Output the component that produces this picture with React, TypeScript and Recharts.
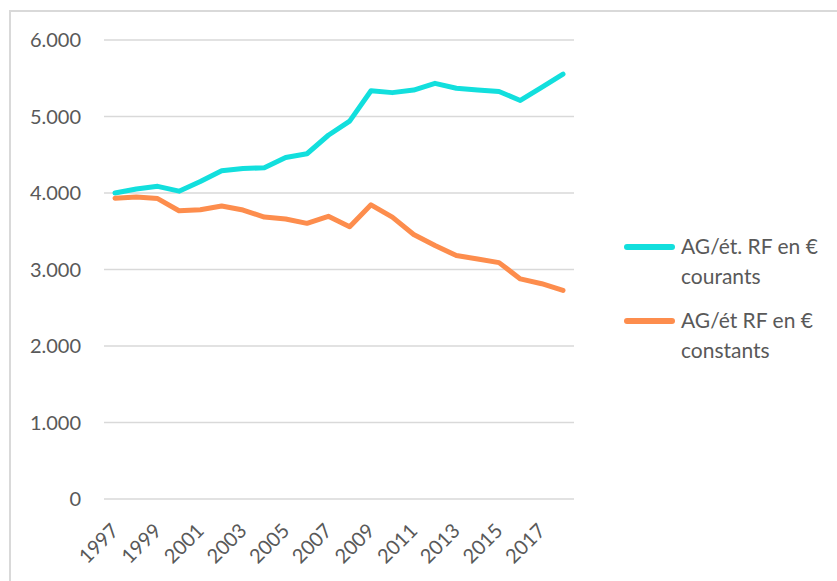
import React from "react";
import { LineChart, Line, XAxis, YAxis, CartesianGrid, Legend } from "recharts";

const years = [
  "1997", "1998", "1999", "2000", "2001", "2002", "2003", "2004", "2005", "2006", "2007",
  "2008", "2009", "2010", "2011", "2012", "2013", "2014", "2015", "2016", "2017", "2018",
];
const courants = [
  4000, 4053, 4087, 4024, 4150, 4290, 4320, 4330, 4465, 4513, 4755,
  4940, 5337, 5312, 5346, 5433, 5370, 5346, 5327, 5210, 5380, 5554,
];
const constants = [
  3932, 3947, 3927, 3768, 3782, 3830, 3777, 3685, 3661, 3603, 3695,
  3559, 3845, 3685, 3458, 3313, 3182, 3138, 3090, 2877, 2814, 2726,
];
const yTicks = [0, 1000, 2000, 3000, 4000, 5000, 6000];
const seriesNames = ["AG/ét. RF en € courants", "AG/ét RF en € constants"];
const seriesLines = [["AG/ét. RF en €", "courants"], ["AG/ét RF en €", "constants"]];
const seriesColors = ["#12dfdd", "#fd8d4d"];

const data = years.map((y, i) => ({ year: y, courants: courants[i], constants: constants[i] }));

const FONT = "Lato, 'Open Sans', sans-serif";
const TEXT = "#595959";

const fmt = (v: number) => (v === 0 ? "0" : v.toLocaleString("de-DE"));

const XTick = (props: any) => {
  const { x, y, payload, index } = props;
  if (index % 2 !== 0) return null;
  const px = x + 5;
  const py = y + 25;
  return (
    <text
      x={px}
      y={py}
      textAnchor="end"
      fill={TEXT}
      fontSize={20}
      fontFamily={FONT}
      transform={`rotate(-45 ${px} ${py})`}
    >
      {payload.value}
    </text>
  );
};

const renderLegend = (props: any) => {
  const payload = [...(props.payload || [])].sort(
    (a: any, b: any) => seriesNames.indexOf(a.value) - seriesNames.indexOf(b.value)
  );
  return (
    <div style={{ fontFamily: FONT, fontSize: 21, color: TEXT, width: 213 }}>
      {payload.map((p: any) => {
        const i = seriesNames.indexOf(p.value);
        return (
          <div key={p.value} style={{ position: "relative", height: 74 }}>
            <div
              style={{
                position: "absolute",
                left: 0,
                top: 16,
                width: 51,
                height: 6,
                borderRadius: 3,
                background: seriesColors[i],
              }}
            />
            <div style={{ position: "absolute", left: 57, top: 3, lineHeight: "30px", whiteSpace: "nowrap" }}>
              <div>{seriesLines[i][0]}</div>
              <div>{seriesLines[i][1]}</div>
            </div>
          </div>
        );
      })}
    </div>
  );
};

export default function App() {
  return (
    <div style={{ position: "absolute", left: 0, top: 0, width: 837, height: 581, overflow: "hidden", background: "#fff" }}>
      <div
        style={{
          position: "absolute",
          left: 9,
          top: 10,
          width: 850,
          height: 600,
          border: "2px solid #d9d9d9",
          boxSizing: "border-box",
        }}
      />
      <div style={{ position: "absolute", left: 0, top: 0 }}>
        <LineChart width={837} height={581} data={data} margin={{ top: 40, right: 50, bottom: 0, left: 10 }}>
          <CartesianGrid vertical={false} stroke="#d9d9d9" strokeWidth={1.5} />
          <XAxis
            dataKey="year"
            axisLine={false}
            tickLine={false}
            interval={0}
            height={82}
            padding={{ left: 11, right: 11 }}
            tick={<XTick />}
          />
          <YAxis
            domain={[0, 6000]}
            ticks={yTicks}
            width={94}
            axisLine={false}
            tickLine={false}
            tickSize={0}
            tickMargin={23}
            tickFormatter={fmt}
            tick={{ fill: TEXT, fontSize: 20, fontFamily: FONT }}
          />
          <Legend
            layout="vertical"
            verticalAlign="top"
            align="right"
            wrapperStyle={{ left: 624, top: 228, width: 213 }}
            content={renderLegend}
          />
          <Line
            type="linear"
            dataKey="courants"
            name={seriesNames[0]}
            stroke={seriesColors[0]}
            strokeWidth={5}
            strokeLinecap="round"
            strokeLinejoin="round"
            dot={false}
            isAnimationActive={false}
          />
          <Line
            type="linear"
            dataKey="constants"
            name={seriesNames[1]}
            stroke={seriesColors[1]}
            strokeWidth={5}
            strokeLinecap="round"
            strokeLinejoin="round"
            dot={false}
            isAnimationActive={false}
          />
        </LineChart>
      </div>
    </div>
  );
}
